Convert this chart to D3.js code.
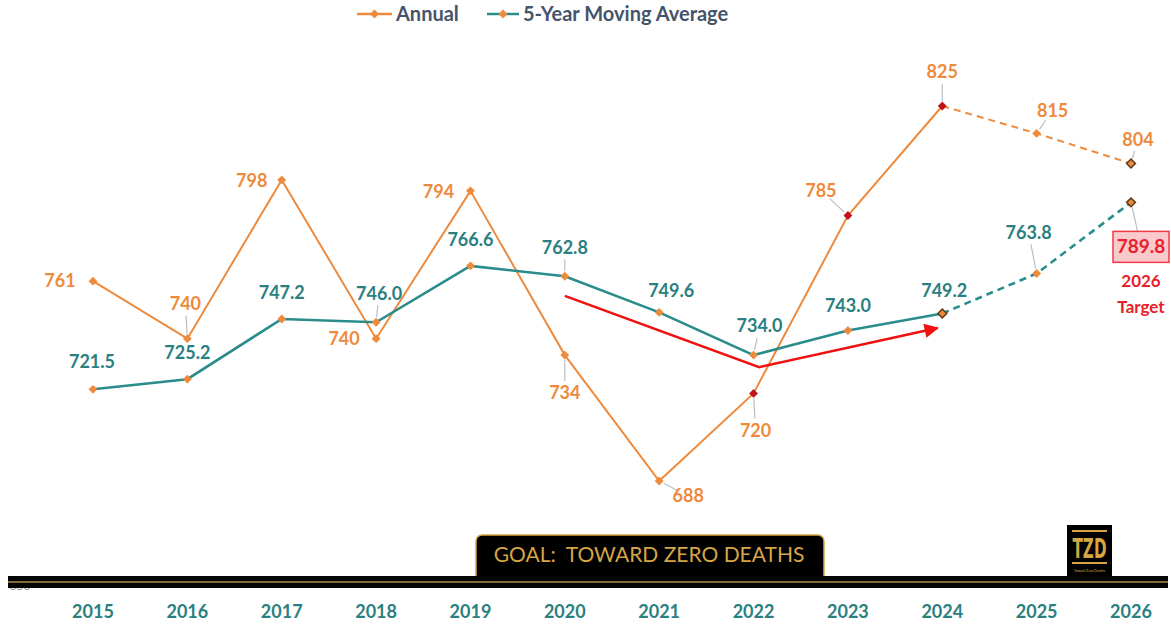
<!DOCTYPE html>
<html>
<head>
<meta charset="utf-8">
<script src="https://cdn.jsdelivr.net/npm/d3@7"></script>
<style>
  body { margin: 0; background: #fff; }
  svg { display: block; font-family: Lato, 'Open Sans', sans-serif; }
</style>
</head>
<body>
<div id="chart"></div>
<script>
// **Data**
const years = [2015, 2016, 2017, 2018, 2019, 2020, 2021, 2022, 2023, 2024, 2025, 2026]
const annual = [761, 740, 798, 740, 794, 734, 688, 720, 785, 825, 815, 804]
const movingAvg = [721.5, 725.2, 747.2, 746.0, 766.6, 762.8, 749.6, 734.0, 743.0, 749.2, 763.8, 789.8]
const yTicks = [650]
const lastActualYear = 2024
const targetText = ['2026', 'Target']
const goalText = 'GOAL:  TOWARD ZERO DEATHS'
// trend arrow, in data units (year, deaths)
const trendArrow = [[2020, 755.6], [2022.06, 729.6], [2023.95, 743.9]]

// **Layout / style (not data)**
const width = 1171
const height = 627
const orange = '#EE8A3C'
const teal = '#2B8C8C'
const tealText = '#2A8080'
const red = '#E8202A'
const gold = '#D6A545'
const leaderColor = '#b8bec8'

// label offsets [dx, dy, leader?] from each point
const annualLabelPos = [
  [-33, 0, 0], [-2, -35, 1], [-30, 1, 0], [-32, 0, 0], [-32, 1, 0], [0, 38, 1],
  [29, 15, 1], [2, 37, 1], [-27, -25, 1], [0, -34, 1], [16, -23, 1], [7, -24, 1]
]
const maLabelPos = [
  [-1, -28, 0], [0, -26, 0], [0, -26, 0], [3, -29, 1], [0, -26, 0], [0, -29, 1],
  [12, -22, 0], [6, -29, 1], [0, -25, 0], [2, -23, 0], [-8, -41, 1], [10, 44, 1]
]
// marker fill per point
const annualMarkerFill = years.map(y => (y >= 2022 && y <= 2024) ? '#C0141C' : orange)
const specialStroke = (y, isMA) => (y === 2026 || (isMA && y === 2024)) ? '#5a3a1a' : 'none'

const svg = d3.select('#chart')
  .append('svg')
  .attr('width', width)
  .attr('height', height)

svg.append('rect').attr('width', width).attr('height', height).attr('fill', '#fff')

// **Scales**
const x = d3.scaleLinear().domain([2015, 2026]).range([93, 1131])
const y = d3.scaleLinear().domain([650, 850]).range([585, 37.6])

// y tick label (mostly hidden behind the band)
svg.selectAll('.ytick')
  .data(yTicks)
  .join('text')
  .attr('x', 20)
  .attr('y', d => y(d) + 5)
  .attr('text-anchor', 'middle')
  .style('font-size', '12px')
  .attr('fill', '#8a8a8a')
  .text(d => d)

// **Lines**
const annualPts = years.map((yr, i) => ({ year: yr, value: annual[i], i }))
const maPts = years.map((yr, i) => ({ year: yr, value: movingAvg[i], i }))

const line = d3.line().x(d => x(d.year)).y(d => y(d.value))

function drawSeries (pts, color, sw) {
  svg.append('path')
    .datum(pts.filter(d => d.year <= lastActualYear))
    .attr('fill', 'none')
    .attr('stroke', color)
    .attr('stroke-width', sw)
    .attr('d', line)
  svg.append('path')
    .datum(pts.filter(d => d.year >= lastActualYear))
    .attr('fill', 'none')
    .attr('stroke', color)
    .attr('stroke-width', sw)
    .attr('stroke-dasharray', '7,5')
    .attr('d', line)
}
drawSeries(annualPts, orange, 2)
drawSeries(maPts, teal, 2.6)

// **Trend arrow**
svg.append('defs').append('marker')
  .attr('id', 'arrowhead')
  .attr('viewBox', '0 0 10 10')
  .attr('refX', 9)
  .attr('refY', 5)
  .attr('markerWidth', 7)
  .attr('markerHeight', 6)
  .attr('markerUnits', 'strokeWidth')
  .attr('orient', 'auto')
  .append('path')
  .attr('d', 'M0,0 L10,5 L0,10 z')
  .attr('fill', '#F01010')

svg.append('path')
  .datum(trendArrow)
  .attr('fill', 'none')
  .attr('stroke', '#F01010')
  .attr('stroke-width', 2.4)
  .attr('marker-end', 'url(#arrowhead)')
  .attr('d', d3.line().x(d => x(d[0])).y(d => y(d[1])))

// **Labels with leader lines**
function drawLabels (pts, pos, color, isMA) {
  pts.forEach(d => {
    const [dx, dy, lead] = pos[d.i]
    const px = x(d.year)
    const py = y(d.value)
    if (lead) {
      const len = Math.hypot(dx, dy)
      const ux = dx / len
      const uy = dy / len
      svg.append('line')
        .attr('x1', px + ux * 5).attr('y1', py + uy * 5)
        .attr('x2', px + ux * (len - 12)).attr('y2', py + uy * (len - 12))
        .attr('stroke', leaderColor)
        .attr('stroke-width', 1.2)
    }
    if (isMA && d.year === 2026) return
    svg.append('text')
      .attr('x', px + dx)
      .attr('y', py + dy)
      .attr('dy', '0.35em')
      .attr('text-anchor', 'middle')
      .style('font-size', '18px')
      .style('font-weight', 'bold')
      .attr('fill', color)
      .text(isMA ? d3.format('.1f')(d.value) : d.value)
  })
}
drawLabels(annualPts, annualLabelPos, orange, false)
drawLabels(maPts, maLabelPos, tealText, true)

// **Markers**
const diamond = d3.symbol().type(d3.symbolDiamond2).size(50)
svg.selectAll('.m-annual')
  .data(annualPts)
  .join('path')
  .attr('transform', d => `translate(${x(d.year)},${y(d.value)})`)
  .attr('d', diamond)
  .attr('fill', d => annualMarkerFill[d.i])
  .attr('stroke', d => specialStroke(d.year, false))
  .attr('stroke-width', 1.5)

svg.selectAll('.m-ma')
  .data(maPts)
  .join('path')
  .attr('transform', d => `translate(${x(d.year)},${y(d.value)})`)
  .attr('d', diamond)
  .attr('fill', orange)
  .attr('stroke', d => specialStroke(d.year, true))
  .attr('stroke-width', 1.5)

// **2026 target box**
const target = maPts[maPts.length - 1]
const tx = x(target.year) + maLabelPos[target.i][0]
const ty = y(target.value) + maLabelPos[target.i][1]
svg.append('rect')
  .attr('x', tx - 28).attr('y', ty - 15)
  .attr('width', 56).attr('height', 31)
  .attr('fill', '#F9C9CB')
  .attr('stroke', '#EE3B44')
  .attr('stroke-width', 1.5)
svg.append('text')
  .attr('x', tx).attr('y', ty).attr('dy', '0.35em')
  .attr('text-anchor', 'middle')
  .style('font-size', '19px').style('font-weight', 'bold')
  .attr('fill', red)
  .text(d3.format('.1f')(target.value))
svg.selectAll('.target-sub')
  .data(targetText)
  .join('text')
  .attr('x', tx)
  .attr('y', (d, i) => ty + 35 + i * 26)
  .attr('dy', '0.35em')
  .attr('text-anchor', 'middle')
  .style('font-size', '17px').style('font-weight', 'bold')
  .attr('fill', red)
  .text(d => d)

// **Goal banner**
svg.append('rect')
  .attr('x', 476).attr('y', 535)
  .attr('width', 348).attr('height', 46)
  .attr('rx', 6)
  .attr('fill', '#000')
  .attr('stroke', gold)
  .attr('stroke-width', 1.5)
svg.append('text')
  .attr('x', 649).attr('y', 555).attr('dy', '0.35em')
  .attr('text-anchor', 'middle')
  .style('font-size', '21px')
  .style('white-space', 'pre')
  .attr('fill', gold)
  .text(goalText)

// TZD logo
const logo = svg.append('g').attr('transform', 'translate(1067,525)')
logo.append('rect').attr('width', 45).attr('height', 56).attr('fill', '#000')
logo.append('rect').attr('x', 5).attr('y', 5).attr('width', 35).attr('height', 2).attr('fill', gold)
logo.append('rect').attr('x', 5).attr('y', 37).attr('width', 35).attr('height', 2).attr('fill', gold)
logo.append('text')
  .attr('x', 22.5).attr('y', 33)
  .attr('text-anchor', 'middle')
  .attr('textLength', 34)
  .attr('lengthAdjust', 'spacingAndGlyphs')
  .style('font-family', "'Liberation Sans Narrow', 'DejaVu Sans Condensed', sans-serif")
  .style('font-size', '26px').style('font-weight', 'bold')
  .attr('fill', gold)
  .text('TZD')
logo.append('text')
  .attr('x', 22.5).attr('y', 47)
  .attr('text-anchor', 'middle')
  .style('font-size', '3.5px')
  .attr('fill', gold)
  .text('Toward Zero Deaths')

// **Bottom band (axis)**
svg.append('rect')
  .attr('x', 8).attr('y', 576)
  .attr('width', 1160).attr('height', 12)
  .attr('fill', '#050505')
svg.append('line')
  .attr('x1', 8).attr('x2', 1168)
  .attr('y1', 582).attr('y2', 582)
  .attr('stroke', '#A88A4A')
  .attr('stroke-width', 1.4)

// x axis labels
svg.selectAll('.xlabel')
  .data(years)
  .join('text')
  .attr('x', d => x(d))
  .attr('y', 612)
  .attr('dy', '0.35em')
  .attr('text-anchor', 'middle')
  .style('font-size', '18px').style('font-weight', 'bold')
  .attr('fill', tealText)
  .text(d => d)

// **Legend**
const legendItems = [
  { name: 'Annual', color: orange, x: 357, w: 35 },
  { name: '5-Year Moving Average', color: teal, x: 487, w: 32 }
]
const legend = svg.append('g').attr('transform', 'translate(0,14)')
legendItems.forEach(it => {
  legend.append('line')
    .attr('x1', it.x).attr('x2', it.x + it.w)
    .attr('stroke', it.color).attr('stroke-width', 2.5)
  legend.append('path')
    .attr('transform', `translate(${it.x + it.w / 2},0)`)
    .attr('d', diamond)
    .attr('fill', orange)
  legend.append('text')
    .attr('x', it.x + it.w + 4)
    .attr('dy', '0.35em')
    .style('font-size', '20px').style('font-weight', 'bold')
    .attr('fill', '#44546A')
    .text(it.name)
})
</script>
</body>
</html>
